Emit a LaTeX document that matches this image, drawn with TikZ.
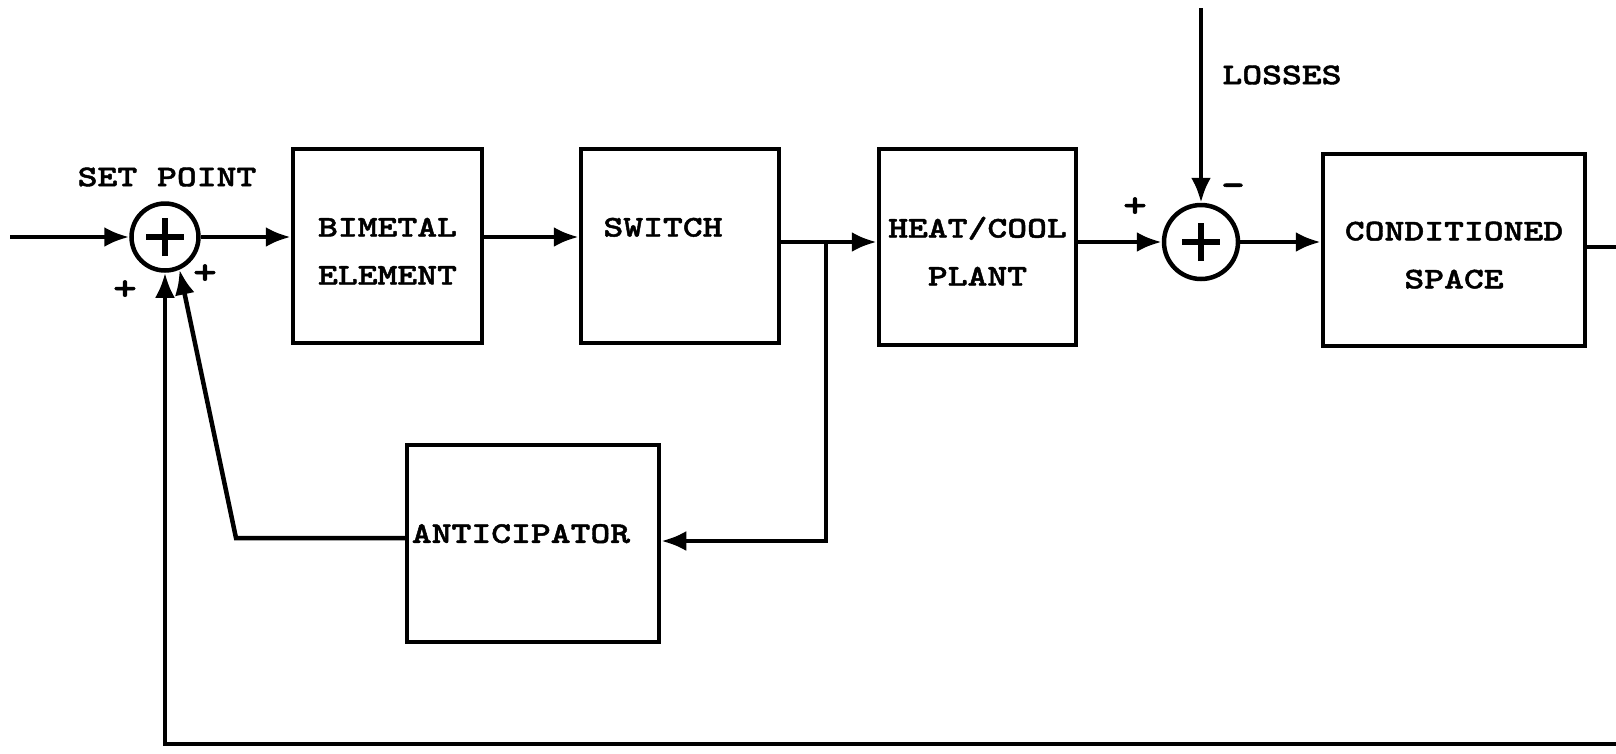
\documentclass[tikz,border=0pt]{standalone}
\usepackage{fontspec}
\usepackage{tikz}
\usetikzlibrary{positioning}
\usetikzlibrary{arrows.meta}

\newfontfamily\typefont{lmmonolt10-bold.otf}[FakeStretch=1.26,FakeBold=1.5]

\begin{document}
\begin{tikzpicture}[
    x=1pt, y=-1pt,
    font=\typefont\fontsize{30}{48}\selectfont,
    block/.style={rectangle,draw,line width=4.5pt,align=center,inner sep=0pt},
    sumnode/.style={circle,draw,line width=4.5pt,inner sep=0pt,
        path picture={\draw[line width=6pt]
            ([xshift=-19pt]path picture bounding box.center) -- ([xshift=19pt]path picture bounding box.center)
            ([yshift=-19pt]path picture bounding box.center) -- ([yshift=19pt]path picture bounding box.center);}},
    sign/.style={font=\typefont\fontsize{36}{40}\selectfont},
    arrow/.style={-{Latex[length=25pt,width=20pt]},line width=4.5pt},
    wire/.style={line width=4.5pt}
]
\useasboundingbox (0,0) rectangle (1616,753);

\node[sumnode,minimum size=67pt] (sum1) at (165,237) {};
\node[block,minimum width=189pt,minimum height=194pt] (bim) at (387.5,246) {\rule{0pt}{29pt}BIMETAL\\ELEMENT};
\node[block,minimum width=198pt,minimum height=194pt] (sw) at (680,246) {\rule{0pt}{29pt}SWITCH\hspace*{34pt}\\\mbox{}};
\node[block,minimum width=197pt,minimum height=196pt] (heat) at (977.5,247) {\rule{0pt}{29pt}HEAT/COOL\\PLANT};
\node[sumnode,minimum size=74pt] (sum2) at (1201,242) {};
\node[block,minimum width=262pt,minimum height=192pt] (cond) at (1454,250) {\rule{0pt}{29pt}CONDITIONED\\SPACE};
\node[block,minimum width=252pt,minimum height=197pt] (ant) at (533,543.5) {ANTICIPATOR\hspace*{24pt}\rule[-20pt]{0pt}{0pt}};

\node (setpt) at (167,177) {SET POINT};
\node (losses) at (1282,75) {LOSSES};
\node[sign] (p1) at (125,290) {+};
\node[sign] (p2) at (205,274) {+};
\node[sign] (p3) at (1135,207) {+};
\node[sign] (m3) at (1233,190) {-};

\coordinate (in) at (10,237);
\coordinate (br) at (826,242);
\coordinate (loss) at (1201,8);
\coordinate (out) at (1616,247);
\coordinate (fb) at (1616,744);
\coordinate (k) at (236,538);

\draw[arrow] (in) -- (sum1);
\draw[arrow] (sum1) -- (sum1 -| bim.west);
\draw[arrow] (bim.east |- sum1) -- (sw.west |- sum1);
\draw[arrow] (sw.east |- br) -- (heat.west |- br);
\draw[arrow] (br) |- (ant.east |- 0,541);
\draw[arrow] (heat.east |- sum2) -- (sum2);
\draw[arrow] (loss) -- (sum2);
\draw[arrow] (sum2) -- (sum2 -| cond.west);
\draw[wire] (cond.east |- out) -- (out);
\draw[arrow] (fb) -| (sum1.south);
\draw[arrow] (ant.west |- k) -- (k) -- (sum1.-66);
\end{tikzpicture}
\end{document}
